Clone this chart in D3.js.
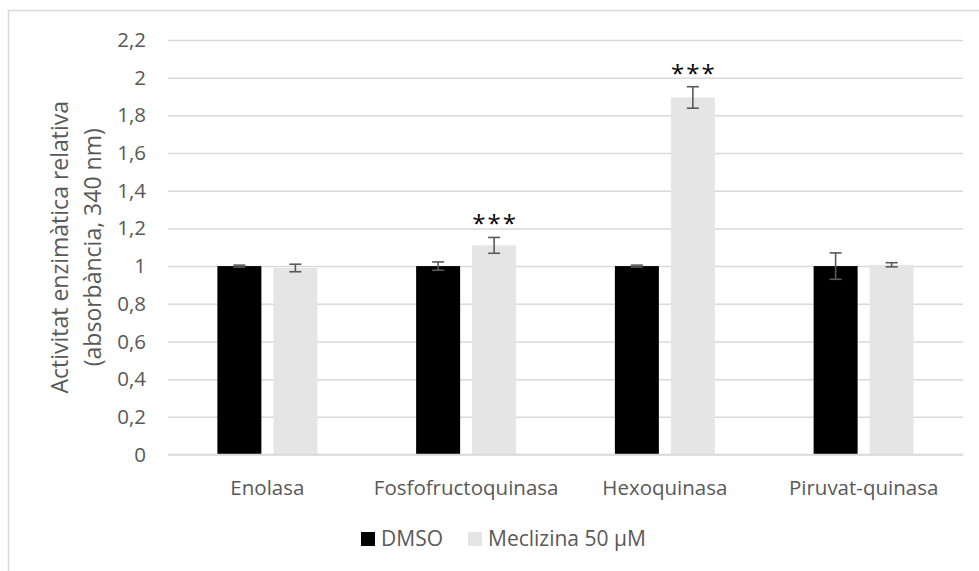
<!DOCTYPE html>
<html>
<head>
<meta charset="utf-8">
<script src="https://cdn.jsdelivr.net/npm/d3@7"></script>
<style>
  html, body { margin: 0; padding: 0; background: #fff; }
  svg { display: block; font-family: "Open Sans", "Liberation Sans", sans-serif; }
</style>
</head>
<body>
<svg id="chart" width="979" height="571"></svg>
<script>
// Enzyme activity data
const categories = ["Enolasa", "Fosfofructoquinasa", "Hexoquinasa", "Piruvat-quinasa"];
const seriesNames = ["DMSO", "Meclizina 50 µM"];
const dmsoValues = [1.0, 1.0, 1.0, 1.0];
const dmsoErrors = [0.005, 0.022, 0.005, 0.07];
const meclizinaValues = [0.99, 1.11, 1.895, 1.007];
const meclizinaErrors = [0.02, 0.042, 0.057, 0.011];
const significance = ["", "***", "***", ""];
const yTicks = [0, 0.2, 0.4, 0.6, 0.8, 1, 1.2, 1.4, 1.6, 1.8, 2, 2.2];
const yTitleLines = ["Activitat enzimàtica relativa", "(absorbància, 340 nm)"];

const colors = { "DMSO": "#000000", "Meclizina 50 µM": "#e5e5e5" };
const textColor = "#595959";
const gridColor = "#d9d9d9";

const svg = d3.select("#chart");

// Outer chart frame (runs past the right and bottom edges)
svg.append("rect")
  .attr("x", 8.5).attr("y", 10.5)
  .attr("width", 990).attr("height", 580)
  .attr("fill", "#fff").attr("stroke", gridColor).attr("stroke-width", 1.5);

const plot = { left: 168, right: 963, top: 40, bottom: 454.5 };

const y = d3.scaleLinear().domain([0, 2.2]).range([plot.bottom, plot.top]);
const x0 = d3.scaleBand().domain(categories).range([plot.left, plot.right]).padding(0);
const barW = 44, barGap = 12;
const step = barW + barGap;
const outer = (x0.bandwidth() - (2 * step - barGap)) / 2;
const x1 = d3.scaleBand().domain(seriesNames).range([0, x0.bandwidth()])
  .paddingInner(barGap / step).paddingOuter(outer / step);

// Gridlines + tick labels
const yAxis = d3.axisLeft(y).tickValues(yTicks)
  .tickSize(-(plot.right - plot.left))
  .tickFormat(d => String(d).replace(".", ","))
  .tickPadding(22);
const gy = svg.append("g").attr("transform", `translate(${plot.left},0)`).call(yAxis);
gy.select(".domain").remove();
gy.selectAll(".tick line").attr("stroke", gridColor).attr("stroke-width", 1.5);
gy.selectAll(".tick text").attr("fill", textColor).style("font-size", "20.5px")
  .attr("font-family", "Open Sans");

// Y axis title
const titleG = svg.append("g")
  .attr("transform", `translate(77,${(plot.top + plot.bottom) / 2}) rotate(-90)`);
yTitleLines.forEach((t, i) => {
  titleG.append("text")
    .attr("x", 0).attr("y", i * 33 - 9)
    .attr("text-anchor", "middle")
    .attr("fill", textColor)
    .style("font-size", "23px")
    .text(t);
});

// Bars
const rows = categories.map((c, i) => ({
  cat: c,
  bars: [
    { s: seriesNames[0], v: dmsoValues[i], e: dmsoErrors[i] },
    { s: seriesNames[1], v: meclizinaValues[i], e: meclizinaErrors[i] }
  ],
  sig: significance[i]
}));

const groups = svg.append("g").selectAll("g").data(rows).join("g")
  .attr("transform", d => `translate(${x0(d.cat)},0)`);

groups.selectAll("rect").data(d => d.bars).join("rect")
  .attr("x", d => x1(d.s))
  .attr("y", d => y(d.v))
  .attr("width", x1.bandwidth())
  .attr("height", d => y(0) - y(d.v))
  .attr("fill", d => colors[d.s]);

// Baseline
svg.append("line")
  .attr("x1", plot.left).attr("x2", plot.right)
  .attr("y1", y(0)).attr("y2", y(0))
  .attr("stroke", gridColor).attr("stroke-width", 1.5);

// Error bars
const capW = 12;
const eb = groups.selectAll("g.err").data(d => d.bars).join("g").attr("class", "err")
  .attr("stroke", "#595959").attr("stroke-width", 1.6);
eb.append("line")
  .attr("x1", d => x1(d.s) + x1.bandwidth() / 2)
  .attr("x2", d => x1(d.s) + x1.bandwidth() / 2)
  .attr("y1", d => y(d.v + d.e)).attr("y2", d => y(d.v - d.e));
eb.append("line")
  .attr("x1", d => x1(d.s) + x1.bandwidth() / 2 - capW / 2)
  .attr("x2", d => x1(d.s) + x1.bandwidth() / 2 + capW / 2)
  .attr("y1", d => y(d.v + d.e)).attr("y2", d => y(d.v + d.e));
eb.append("line")
  .attr("x1", d => x1(d.s) + x1.bandwidth() / 2 - capW / 2)
  .attr("x2", d => x1(d.s) + x1.bandwidth() / 2 + capW / 2)
  .attr("y1", d => y(d.v - d.e)).attr("y2", d => y(d.v - d.e));

// Significance marks above the Meclizina bars
groups.filter(d => d.sig).append("text")
  .attr("x", d => x1(seriesNames[1]) + x1.bandwidth() / 2 + 1)
  .attr("y", d => y(d.bars[1].v + d.bars[1].e) - 5)
  .attr("text-anchor", "middle")
  .attr("fill", "#000")
  .attr("letter-spacing", "2px")
  .style("font-size", "24px")
  .text(d => d.sig);

// Category labels
svg.append("g").selectAll("text").data(categories).join("text")
  .attr("x", d => x0(d) + x0.bandwidth() / 2)
  .attr("y", 495)
  .attr("text-anchor", "middle")
  .attr("fill", textColor)
  .style("font-size", "20.5px")
  .text(d => d);

// Legend
const legendItems = [
  { s: seriesNames[0], x: 361 },
  { s: seriesNames[1], x: 468 }
];
const lg = svg.append("g").selectAll("g").data(legendItems).join("g")
  .attr("transform", d => `translate(${d.x},532)`);
lg.append("rect").attr("width", 14).attr("height", 14).attr("fill", d => colors[d.s]);
lg.append("text").attr("x", 20).attr("y", 14)
  .attr("fill", textColor).style("font-size", "21px")
  .text(d => d.s);
</script>
</body>
</html>
